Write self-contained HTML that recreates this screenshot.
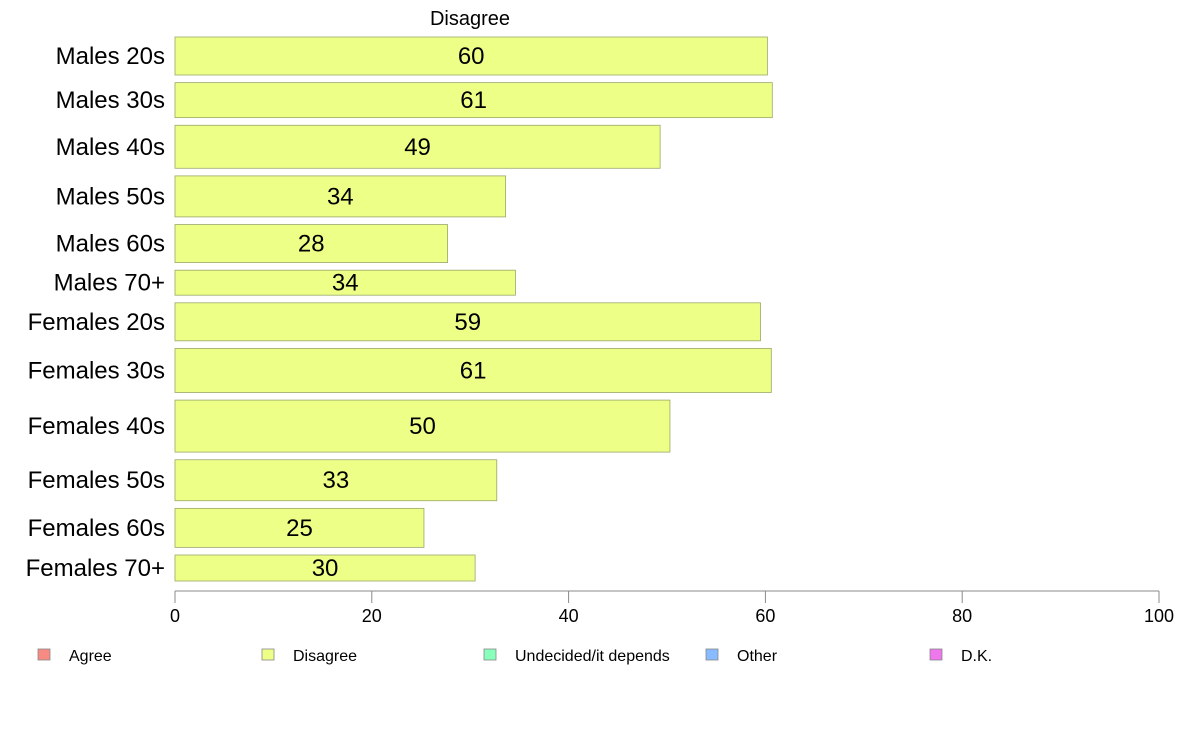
<!DOCTYPE html>
<html><head><meta charset="utf-8"><style>
body{margin:0;background:#fff;}
svg{display:block;font-family:"Liberation Sans",Arial,sans-serif;}
</style></head><body>
<svg id="c" width="1188" height="736"></svg>
<script>
const categories=["Males 20s","Males 30s","Males 40s","Males 50s","Males 60s","Males 70+","Females 20s","Females 30s","Females 40s","Females 50s","Females 60s","Females 70+"];
const values=[60.2,60.7,49.3,33.6,27.7,34.6,59.5,60.6,50.3,32.7,25.3,30.5];
const labels=["60","61","49","34","28","34","59","61","50","33","25","30"];
const weights=[38,35,43,41,38,25,38,44,52,41,39,26];
const ticks=[0,20,40,60,80,100];
const legendItems=["Agree","Disagree","Undecided/it depends","Other","D.K."];
const legendColors=["#f88a84","#eeff88","#88ffbb","#88bbff","#ee77ee"];
const NS="http://www.w3.org/2000/svg";
const svgEl=document.getElementById('c');
function mk(t,a,p){const e=document.createElementNS(NS,t);for(const k in a)e.setAttribute(k,a[k]);(p||svgEl).appendChild(e);return e;}
const x0=175,x1=1159,yTop=37,yBot=581;
const xs=v=>x0+(x1-x0)*v/100;
const tot=weights.reduce((a,b)=>a+b,0);
const gap=(yBot-yTop-tot)/(weights.length-1);
let t=mk('text',{x:470,y:25,'font-size':20,'text-anchor':'middle'});t.textContent="Disagree";


let y=yTop;
categories.forEach((c,i)=>{
 const h=weights[i];
 const r=mk('rect',{x:x0,y:y,width:xs(values[i])-x0,height:h,fill:'#eeff88',stroke:'#99a866','stroke-width':0.8});
 
 
 const cy=y+h/2;
 const l=mk('text',{x:165,y:cy+8,'font-size':24,'text-anchor':'end'});l.textContent=c;
 
 
 const v=mk('text',{x:(x0+xs(values[i]))/2,y:cy+8,'font-size':24,'text-anchor':'middle'});v.textContent=labels[i];
 
 
 y+=h+gap;
});
const ax=mk('line',{x1:x0,x2:x1,y1:591,y2:591,stroke:'#888','stroke-width':1});


ticks.forEach(tk=>{
 const tl=mk('line',{x1:xs(tk),x2:xs(tk),y1:591,y2:603,stroke:'#888','stroke-width':1});
 
 
 const tt=mk('text',{x:xs(tk),y:622,'font-size':18,'text-anchor':'middle'});tt.textContent=tk;
 
 
});
const lx=[38,262,484,706,930];
legendItems.forEach((n,i)=>{
 const g=mk('g',{});
 
 
 mk('rect',{x:lx[i],y:649,width:12,height:11,fill:legendColors[i],stroke:'#888','stroke-width':0.8},g);
 const tx=mk('text',{x:lx[i]+31,y:661,'font-size':16},g);tx.textContent=n;
});
</script>
</body></html>
